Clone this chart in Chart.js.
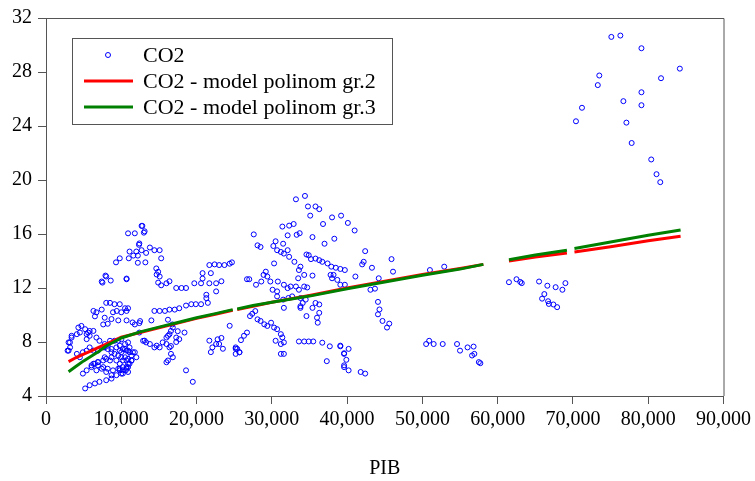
<!DOCTYPE html>
<html>
<head>
<meta charset="utf-8">
<script src="https://cdn.jsdelivr.net/npm/chart.js@4.4.1/dist/chart.umd.min.js"></script>
<style>
  html, body { margin: 0; padding: 0; background: #ffffff; }
  canvas { display: block; }
</style>
</head>
<body>
<canvas id="c" width="755" height="481"></canvas>
<script>
// ---- Data ----
const xTicks = [0, 10000, 20000, 30000, 40000, 50000, 60000, 70000, 80000, 90000];
const yTicks = [4, 8, 12, 16, 20, 24, 28, 32];

const seriesNames = ['CO2', 'CO2 - model polinom gr.2', 'CO2 - model polinom gr.3'];

// observed CO2 vs PIB: [PIB, CO2]
const co2Observed = [
  [2870,7.36],[3180,7.97],[3400,8.33],[3400,8.46],[4100,8.58],[4500,8.7],[4300,9.07],[4700,9.19],[5200,8.95],[5600,8.7],
  [5800,8.46],[5400,8.21],[3000,7.97],[3200,7.6],[3000,7.36],[4100,7.12],[4500,6.87],[4900,7.24],[5400,7.36],[5800,7.6],
  [6300,7.36],[5400,5.9],[6050,6.14],[6700,5.9],[4900,5.66],[6300,6.39],[6900,6.27],[6500,6.39],[6050,6.27],[6900,6.51],
  [5400,8.58],[5800,8.82],[6300,8.82],[6700,8.33],[6300,10.3],[6500,9.9],[6700,10.2],[5200,4.56],[5800,4.8],[6500,4.93],
  [6900,7.36],[7600,7.6],[8200,7.48],[8700,7.24],[9100,7.12],[9800,7.36],[10500,7.48],[10900,7.36],[11550,7.24],[7800,6.87],
  [8500,6.63],[9350,6.63],[10000,6.87],[10700,6.63],[11350,6.63],[7600,6.14],[8200,6.02],[8900,5.9],[9600,6.02],[10200,6.14],
  [10900,6.39],[7400,6.02],[8000,5.78],[8700,5.54],[9800,5.9],[10200,5.66],[10700,6.02],[7100,5.05],[8000,5.17],[8700,5.29],
  [9350,5.54],[10000,5.66],[9600,8.1],[10000,8.2],[10500,7.85],[10900,7.97],[11100,7.6],[10200,6.63],[10900,6.14],[11100,6.39],
  [9800,6.39],[10600,5.9],[11800,7.24],[12000,6.87],[11350,7.0],[7100,8.09],[7800,7.85],[8500,8.09],[9100,8.09],[7800,7.6],
  [8200,7.73],[8700,7.48],[9350,7.6],[9800,7.73],[10200,7.48],[10700,7.36],[11100,7.24],[10000,7.24],[9600,7.0],[10500,6.87],
  [10900,6.75],[11350,6.63],[8700,6.87],[8000,6.75],[7600,6.63],[6900,6.51],[10700,6.14],[10200,5.9],[9800,6.02],[10900,5.78],
  [7400,10.4],[8000,10.9],[8500,10.9],[9100,10.8],[9800,10.8],[10500,10.5],[10900,10.5],[7800,9.8],[8700,9.7],[9600,9.6],
  [10700,9.6],[8900,10.2],[9400,10.3],[10000,10.2],[10700,10.3],[7600,9.3],[8200,9.35],[11500,9.45],[12500,9.55],
  [7500,12.4],[7900,12.92],[7400,12.48],[8600,12.55],[10700,12.65],[8000,12.85],[9300,13.9],[9800,14.2],[11000,14.2],[11600,14.4],
  [12200,13.87],[13200,13.9],[11100,14.7],[12000,14.7],[12700,14.8],[12400,15.3],[12350,15.2],[13800,15.0],[14400,14.8],[15100,14.8],
  [12200,14.4],[13300,14.6],[15300,14.2],[10900,16.05],[11800,16.05],[12700,16.6],[12800,16.6],[13100,16.2],[13000,16.1],[10700,12.7],
  [14650,13.45],[14900,13.2],[14700,13.0],[15100,12.85],[14900,12.4],[15300,12.2],[16000,12.35],[16400,12.5],
  [17300,12.0],[18000,12.0],[18600,12.0],[19700,12.35],[20600,12.35],[20800,12.7],[21700,12.35],[22600,12.35],[23300,12.5],[20800,13.1],
  [21900,13.1],[21700,13.7],[22400,13.75],[23000,13.7],[23700,13.7],[24400,13.8],[24700,13.9],[22600,11.75],[21300,11.5],[21300,11.25],
  [11800,9.3],[12400,9.4],[14000,9.6],[14400,10.3],[15100,10.3],[15800,10.3],[16400,10.4],[17100,10.4],[17700,10.5],[18600,10.7],
  [19300,10.8],[19900,10.8],[20600,10.8],[21500,10.9],[16800,9.3],[16200,9.65],[17500,8.8],[18400,8.7],
  [12400,8.7],[13100,8.1],[13800,7.85],[14400,7.6],[15100,7.6],[16000,7.85],[16600,7.7],[17300,8.0],[12900,8.09],[13300,7.97],
  [14700,7.73],[15500,7.97],[16000,8.33],[16200,8.46],[16400,8.58],[16600,8.82],[16850,9.07],[17300,8.33],[17700,8.21],[16400,7.6],
  [16600,7.12],[16850,6.87],[16200,6.63],[16000,6.5],
  [21700,8.1],[22100,7.6],[22800,8.2],[23300,8.3],[23000,7.85],[23500,7.5],[21900,7.25],[22600,7.85],[25200,7.6],[25700,7.24],
  [24400,9.2],[25200,7.5],[18600,5.9],[19500,5.05],
  [33200,18.57],[34400,18.82],[34800,18.04],[35800,18.04],[36300,17.84],[35100,17.36],[38000,17.23],[39200,17.36],[36800,16.74],[31400,16.55],
  [32300,16.62],[32900,16.74],[27600,15.97],[32100,15.9],[33300,15.94],[33700,16.06],[35400,15.77],[37000,15.28],[38300,15.65],[28100,15.16],
  [28500,15.04],[30500,15.46],[30200,15.11],[30700,14.8],[31500,15.28],[32100,14.8],[31200,14.67],[31600,14.55],[34600,14.48],[34900,14.43],
  [35200,14.14],[35800,14.18],[36300,14.06],[36700,13.94],[37400,13.82],[37900,13.58],[38500,13.5],[39100,13.41],[38200,12.97],[30300,13.82],
  [32300,14.31],[33000,13.94],[33800,13.58],[33600,13.33],[33500,12.72],[34300,12.97],[35400,12.92],[27000,12.65],[26700,12.65],[29200,13.21],
  [28900,12.97],[29400,12.85],[28600,12.48],[29800,12.48],[30800,12.48],[27900,12.24],[30100,11.87],[30700,11.75],[31600,12.24],[32100,11.99],
  [32500,12.11],[33200,12.11],[33600,11.87],[34300,12.11],[34700,12.04],[37800,12.97],[38000,12.72],[38700,12.6],[39100,12.24],[30700,11.38],
  [31500,11.14],[32200,11.26],[32700,11.38],[33800,11.26],[34500,11.14],[35800,10.89],[36300,10.78],[35400,10.53],[33800,10.65],[34100,10.89],
  [31600,10.53],[33800,10.53],[36300,10.16],[36000,9.8],[36100,9.43],[34600,9.92],[27800,10.29],[27400,10.09],[27100,9.92],[28100,9.68],
  [28500,9.56],[29000,9.31],[29400,9.19],[29900,9.43],[30300,9.07],[30700,8.95],[31200,8.58],[31400,8.34],[30500,8.09],[31200,7.85],
  [31600,7.97],[31200,7.12],[31600,7.12],[33600,8.04],[34300,8.04],[34900,8.04],[35500,8.04],[36700,7.95],[37700,7.68],[39100,7.68],
  [39600,7.12],[37300,6.58],[26700,8.7],[26300,8.46],[25900,8.14],[25400,7.49],[25700,7.24],[25200,7.12],[39600,6.14],
  [40100,16.82],[41000,16.26],[42400,14.73],[42200,13.94],[42000,13.75],[43300,13.5],[45900,14.14],[46100,13.21],[39700,13.33],[41100,12.85],
  [39700,12.24],[44200,12.72],[43100,11.87],[43700,11.95],[44100,10.97],[44300,10.41],[44100,10.05],[44700,9.56],[45600,9.36],[45300,9.07],
  [39100,7.73],[40200,7.49],[39600,7.17],[39900,6.68],[39600,6.27],[40200,5.9],[41800,5.78],[42400,5.66],
  [51000,13.33],[52900,13.58],[50500,7.85],[50900,8.09],[51500,7.85],[52700,7.85],[54600,7.85],[55000,7.36],[56000,7.6],[56800,7.66],
  [56600,7.0],[56900,7.12],[57500,6.51],[57700,6.43],
  [61500,12.43],[62500,12.65],[63200,12.36],[63000,12.45],[65500,12.48],[66600,12.17],[67700,12.06],[69000,12.36],[68600,11.87],[66200,11.55],
  [65900,11.21],[66700,11.02],[67400,10.78],[67900,10.58],[66800,10.82],
  [75100,30.6],[76300,30.7],[79100,29.76],[84200,28.25],[73500,27.74],[73300,27.03],[81700,27.54],[79100,26.5],[76700,25.84],[79100,25.54],
  [71200,25.35],[70400,24.35],[77100,24.25],[77800,22.74],[80400,21.52],[81100,20.43],[81600,19.84]
];

// fitted curves (null = break in the drawn line)
const fitPIB = [3000,4000,5000,6000,7000,8000,9000,10000,12500,15000,17500,20000,22500,24800,25100,25400,27500,30000,35000,40000,45000,50000,55000,58100,59800,61500,65000,69200,69700,70200,75000,80000,84300];
const fitPoly2 = [6.55,6.85,7.1,7.35,7.6,7.85,8.1,8.35,8.7,9.05,9.4,9.75,10.05,10.35,null,10.4,10.65,10.95,11.45,12.0,12.5,13.0,13.45,13.75,null,14.0,14.3,14.6,null,14.67,15.05,15.5,15.84];
const fitPoly3 = [5.8,6.2,6.6,6.95,7.3,7.7,8.0,8.3,8.75,9.1,9.45,9.8,10.1,10.4,null,10.45,10.7,10.95,11.4,11.95,12.45,12.95,13.4,13.75,null,14.1,14.45,14.8,null,14.92,15.4,15.9,16.3];

// ---- Styles ----
const SERIF = '"Liberation Serif", "Times New Roman", serif';
const FRAME = '#555555';
const BLUE = '#0000ff';
const RED = '#ff0000';
const GREEN = '#008000';

const scatterData = co2Observed.map(p => ({x: p[0], y: p[1]}));
const poly2Data = fitPIB.map((x, i) => ({x: x, y: fitPoly2[i]}));
const poly3Data = fitPIB.map((x, i) => ({x: x, y: fitPoly3[i]}));

const whiteBg = {
  id: 'whiteBg',
  beforeDraw(chart) {
    const c = chart.ctx;
    c.save();
    c.fillStyle = '#ffffff';
    c.fillRect(0, 0, chart.width, chart.height);
    c.restore();
  }
};

const frame = {
  id: 'frame',
  afterDatasetsDraw(chart) {
    const a = chart.chartArea, c = chart.ctx;
    c.save();
    c.strokeStyle = FRAME;
    c.lineWidth = 1;
    c.beginPath();
    c.moveTo(a.left, a.top + 0.5);
    c.lineTo(a.right + 0.5, a.top + 0.5);
    c.lineTo(a.right + 0.5, a.bottom);
    c.stroke();
    c.restore();
  }
};

const boxLegend = {
  id: 'boxLegend',
  afterDraw(chart) {
    const c = chart.ctx;
    const L = 72.5, T = 38.5, R = 392.5, B = 124.5;
    c.save();
    c.fillStyle = '#ffffff';
    c.fillRect(L, T, R - L, B - T);
    c.strokeStyle = FRAME;
    c.lineWidth = 1;
    c.strokeRect(L, T, R - L, B - T);
    const rows = [55, 81, 107];
    // marker
    c.strokeStyle = BLUE;
    c.lineWidth = 1;
    c.beginPath();
    c.arc(108, rows[0], 2.5, 0, Math.PI * 2);
    c.stroke();
    // lines
    c.lineWidth = 3;
    c.strokeStyle = RED;
    c.beginPath(); c.moveTo(84, rows[1]); c.lineTo(133, rows[1]); c.stroke();
    c.strokeStyle = GREEN;
    c.beginPath(); c.moveTo(84, rows[2]); c.lineTo(133, rows[2]); c.stroke();
    // text
    c.fillStyle = '#000000';
    c.font = '22px ' + SERIF;
    c.textBaseline = 'middle';
    c.textAlign = 'left';
    for (let i = 0; i < 3; i++) c.fillText(seriesNames[i], 143, rows[i] + 1);
    c.restore();
  }
};

new Chart(document.getElementById('c'), {
  type: 'scatter',
  data: {
    datasets: [
      { label: seriesNames[2], data: poly3Data, showLine: true, spanGaps: false, borderColor: GREEN, backgroundColor: GREEN, borderWidth: 3, pointRadius: 0, order: 0 },
      { label: seriesNames[1], data: poly2Data, showLine: true, spanGaps: false, borderColor: RED, backgroundColor: RED, borderWidth: 3, pointRadius: 0, order: 1 },
      { label: seriesNames[0], data: scatterData, showLine: false, pointStyle: 'circle', pointRadius: 2.5, borderWidth: 1, borderColor: BLUE, backgroundColor: 'rgba(0,0,0,0)', order: 2 }
    ]
  },
  options: {
    responsive: false,
    animation: false,
    events: [],
    layout: { padding: { left: 0, top: 13, right: 29, bottom: 0 } },
    plugins: { legend: { display: false }, tooltip: { enabled: false } },
    scales: {
      x: {
        type: 'linear', min: xTicks[0], max: xTicks[xTicks.length - 1],
        afterBuildTicks(s) { s.ticks = xTicks.map(v => ({value: v})); },
        afterFit(s) { s.height = 85; },
        ticks: {
          callback: v => v.toLocaleString('en-US'),
          font: { family: SERIF, size: 20 }, color: '#000000', padding: 4, maxRotation: 0, autoSkip: false
        },
        grid: { drawOnChartArea: false, drawTicks: true, tickLength: 8, tickColor: FRAME, color: FRAME },
        border: { display: true, color: FRAME, width: 1 },
        title: { display: true, text: 'PIB', font: { family: SERIF, size: 20 }, color: '#000000', padding: { top: 0, bottom: 0 } }
      },
      y: {
        type: 'linear', min: yTicks[0], max: yTicks[yTicks.length - 1],
        afterBuildTicks(s) { s.ticks = yTicks.map(v => ({value: v})); },
        afterFit(s) { s.width = 46; },
        ticks: { font: { family: SERIF, size: 20 }, color: '#000000', padding: 6, autoSkip: false },
        grid: { drawOnChartArea: false, drawTicks: true, tickLength: 8, tickColor: FRAME, color: FRAME },
        border: { display: true, color: FRAME, width: 1 }
      }
    }
  },
  plugins: [whiteBg, frame, boxLegend]
});
</script>
</body>
</html>
